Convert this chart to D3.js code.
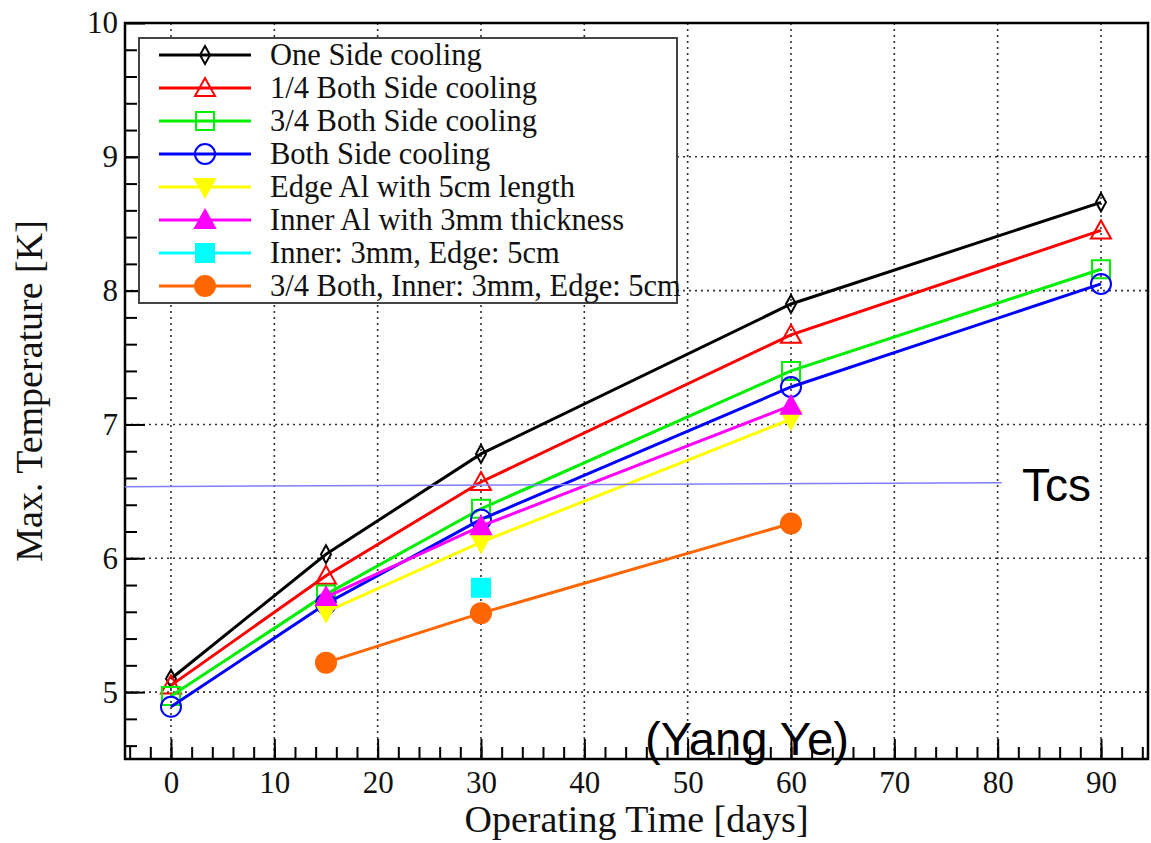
<!DOCTYPE html>
<html>
<head>
<meta charset="utf-8">
<script src="https://cdn.jsdelivr.net/npm/d3@7"></script>
<style>
  html, body { margin: 0; padding: 0; background: #fff; }
  svg { display: block; }
</style>
</head>
<body>
<div id="chart"></div>
<script>
// values
const days = [0, 15, 30, 60, 90];
const partDays = [15, 30, 60];
const comboDays = [30];

const oneSide = [5.10, 6.03, 6.78, 7.90, 8.66];
const quarterBoth = [5.05, 5.87, 6.57, 7.67, 8.45];
const threeQuarterBoth = [4.97, 5.73, 6.37, 7.40, 8.16];
const bothSide = [4.89, 5.66, 6.29, 7.28, 8.05];
const edgeAl = [5.60, 6.12, 7.04];
const innerAl = [5.71, 6.24, 7.14];
const innerEdge = [5.78];
const threeQuarterInnerEdge = [5.22, 5.59, 6.26];

const tcsX = [-4.45, 80.4];
const tcsY = [6.535, 6.565];

const xTicks = [0, 10, 20, 30, 40, 50, 60, 70, 80, 90];
const yTicks = [5, 6, 7, 8, 9, 10];

const series = [
  { name: "One Side cooling", x: days, y: oneSide, color: "#000000", shape: "diamond", fill: false },
  { name: "1/4 Both Side cooling", x: days, y: quarterBoth, color: "#ff0000", shape: "triangle", fill: false },
  { name: "3/4 Both Side cooling", x: days, y: threeQuarterBoth, color: "#00ee00", shape: "square", fill: false },
  { name: "Both Side cooling", x: days, y: bothSide, color: "#0000ff", shape: "circle", fill: false },
  { name: "Edge Al with 5cm length", x: partDays, y: edgeAl, color: "#ffff00", shape: "triangleDown", fill: true },
  { name: "Inner Al with 3mm thickness", x: partDays, y: innerAl, color: "#ff00ff", shape: "triangle", fill: true },
  { name: "Inner: 3mm, Edge: 5cm", x: comboDays, y: innerEdge, color: "#00ffff", shape: "square", fill: true },
  { name: "3/4 Both, Inner: 3mm, Edge: 5cm", x: partDays, y: threeQuarterInnerEdge, color: "#ff6600", shape: "circle", fill: true },
];

const W = 1151, H = 843;
const frame = { left: 125, right: 1148, top: 23, bottom: 759 };
const serif = "Liberation Serif, Times New Roman, serif";
const sans = "Liberation Sans, Arial, sans-serif";

const svg = d3.select("#chart").append("svg").attr("width", W).attr("height", H);

const x = d3.scaleLinear().domain([-4.45, 94.55]).range([frame.left, frame.right]);
const y = d3.scaleLinear().domain([4.5, 10]).range([frame.bottom, frame.top]);

function markerPath(shape) {
  switch (shape) {
    case "diamond": return "M0,-9L5,0L0,9L-5,0Z";
    case "triangle": return "M0,-10L10,8L-10,8Z";
    case "triangleDown": return "M0,10L10,-8L-10,-8Z";
    case "square": return "M-9,-9H9V9H-9Z";
    case "circle": return "M10,0A10,10 0 1,1 -10,0A10,10 0 1,1 10,0Z";
  }
}

// dotted grid
const grid = svg.append("g").attr("stroke", "#333").attr("stroke-width", 1.6).attr("stroke-dasharray", "2,4");
grid.selectAll(".gx").data(xTicks).enter().append("line")
  .attr("x1", (d) => x(d)).attr("x2", (d) => x(d))
  .attr("y1", frame.top).attr("y2", frame.bottom);
grid.selectAll(".gy").data(yTicks.filter((d) => d < 10)).enter().append("line")
  .attr("y1", (d) => y(d)).attr("y2", (d) => y(d))
  .attr("x1", frame.left).attr("x2", frame.right);

// minor ticks
svg.append("g")
  .attr("transform", `translate(0,${frame.bottom})`)
  .call(d3.axisBottom(x).tickValues(d3.range(-4, 95, 2)).tickSizeInner(-12).tickSizeOuter(0).tickFormat(""))
  .call((g) => g.select(".domain").remove())
  .selectAll("line").attr("stroke", "#000").attr("stroke-width", 2);

svg.append("g")
  .attr("transform", `translate(${frame.left},0)`)
  .call(d3.axisLeft(y).tickValues(d3.range(46, 100, 2).map((d) => d / 10)).tickSizeInner(-12).tickSizeOuter(0).tickFormat(""))
  .call((g) => g.select(".domain").remove())
  .selectAll("line").attr("stroke", "#000").attr("stroke-width", 2);

// major ticks with labels
const xAxis = svg.append("g")
  .attr("transform", `translate(0,${frame.bottom})`)
  .call(d3.axisBottom(x).tickValues(xTicks).tickSizeInner(-20).tickSizeOuter(0).tickPadding(12).tickFormat(d3.format("d")));
xAxis.select(".domain").remove();
xAxis.selectAll("line").attr("stroke", "#000").attr("stroke-width", 2);
xAxis.selectAll("text").attr("font-family", serif).attr("font-size", 31).attr("fill", "#111");

const yAxis = svg.append("g")
  .attr("transform", `translate(${frame.left},0)`)
  .call(d3.axisLeft(y).tickValues(yTicks).tickSizeInner(-20).tickSizeOuter(0).tickPadding(7).tickFormat(d3.format("d")));
yAxis.select(".domain").remove();
yAxis.selectAll("line").attr("stroke", "#000").attr("stroke-width", 2);
yAxis.selectAll("text").attr("font-family", serif).attr("font-size", 31).attr("fill", "#111");

// frame
svg.append("rect")
  .attr("x", frame.left).attr("y", frame.top)
  .attr("width", frame.right - frame.left).attr("height", frame.bottom - frame.top)
  .attr("fill", "none").attr("stroke", "#000").attr("stroke-width", 2.5);

// series
const line = d3.line().x((d) => x(d[0])).y((d) => y(d[1]));
series.forEach((s) => {
  const pts = s.x.map((d, i) => [d, s.y[i]]);
  const g = svg.append("g");
  if (pts.length > 1) {
    g.append("path").datum(pts).attr("d", line)
      .attr("fill", "none").attr("stroke", s.color).attr("stroke-width", 3);
  }
  g.selectAll("path.m").data(pts).enter().append("path")
    .attr("class", "m")
    .attr("transform", (d) => `translate(${x(d[0])},${y(d[1])})`)
    .attr("d", markerPath(s.shape))
    .attr("fill", s.fill ? s.color : "none")
    .attr("stroke", s.color).attr("stroke-width", 2);
});

// Tcs line
svg.append("path")
  .datum(tcsX.map((d, i) => [d, tcsY[i]]))
  .attr("d", line)
  .attr("fill", "none").attr("stroke", "#7f7fff").attr("stroke-width", 1.5);

// legend
const legend = svg.append("g");
legend.append("rect")
  .attr("x", 139).attr("y", 38).attr("width", 538).attr("height", 265)
  .attr("fill", "#fff").attr("stroke", "#444").attr("stroke-width", 2);
series.forEach((s, i) => {
  const ly = 55 + i * 33;
  legend.append("line").attr("x1", 159).attr("x2", 251).attr("y1", ly).attr("y2", ly)
    .attr("stroke", s.color).attr("stroke-width", 3);
  legend.append("path").attr("transform", `translate(205,${ly})`)
    .attr("d", markerPath(s.shape))
    .attr("fill", s.fill ? s.color : "none")
    .attr("stroke", s.color).attr("stroke-width", 2);
  legend.append("text").attr("x", 270).attr("y", ly).attr("dy", "0.34em")
    .attr("font-family", serif).attr("font-size", 30.5)
    .attr("fill", "#111")
    .text(s.name);
});

// axis titles
svg.append("text")
  .attr("x", (frame.left + frame.right) / 2).attr("y", 832)
  .attr("text-anchor", "middle")
  .attr("font-family", serif).attr("font-size", 38).attr("fill", "#111")
  .text("Operating Time [days]");

svg.append("text")
  .attr("transform", `translate(42,${(frame.top + frame.bottom) / 2}) rotate(-90)`)
  .attr("text-anchor", "middle")
  .attr("font-family", serif).attr("font-size", 38).attr("fill", "#111")
  .text("Max. Temperature [K]");

// annotations
svg.append("text")
  .attr("x", 1022).attr("y", 501)
  .attr("font-family", sans).attr("font-size", 46).attr("fill", "#000")
  .text("Tcs");

svg.append("text")
  .attr("x", 645).attr("y", 755)
  .attr("font-family", sans).attr("font-size", 47).attr("fill", "#000")
  .attr("textLength", 204).attr("lengthAdjust", "spacingAndGlyphs")
  .text("(Yang Ye)");
</script>
</body>
</html>
